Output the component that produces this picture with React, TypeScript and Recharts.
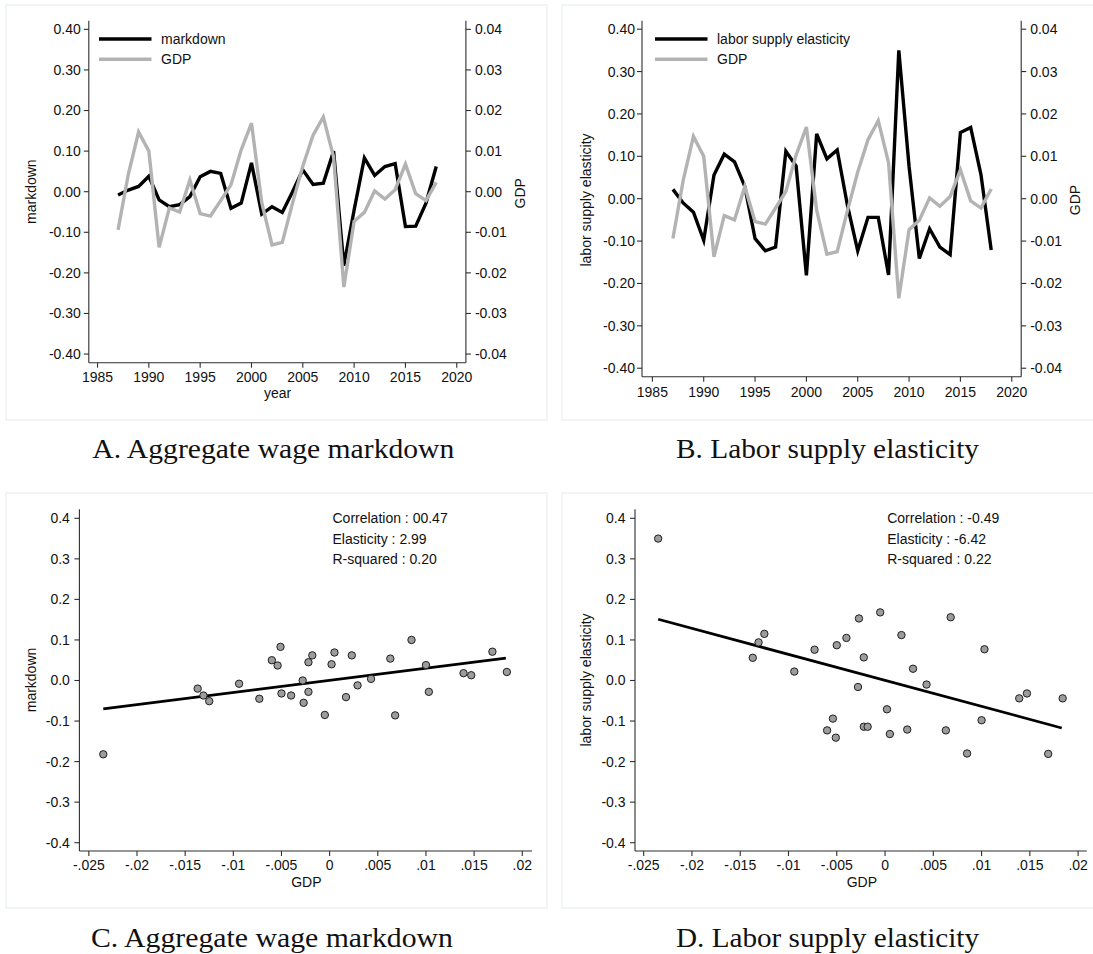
import React from 'react';
import { LineChart, Line, XAxis, YAxis, ScatterChart, Scatter, Legend } from 'recharts';

// ---------- data ----------
const years = [1987, 1988, 1989, 1990, 1991, 1992, 1993, 1994, 1995, 1996, 1997, 1998, 1999, 2000, 2001, 2002,
  2003, 2004, 2005, 2006, 2007, 2008, 2009, 2010, 2011, 2012, 2013, 2014, 2015, 2016, 2017, 2018];
const gdp = [-0.0094, 0.0043, 0.0147, 0.0100, -0.0137, -0.0040, -0.0050, 0.0029, -0.0054, -0.0060, -0.0022, 0.0017,
  0.0103, 0.0169, -0.0027, -0.0131, -0.0125, -0.0028, 0.0063, 0.0139, 0.0184, 0.0085, -0.0235, -0.0073,
  -0.0051, 0.0002, -0.0018, 0.0005, 0.0068, -0.0005, -0.0022, 0.0023];
const markdown = [-0.008, 0.004, 0.013, 0.038, -0.020, -0.037, -0.032, -0.012, 0.037, 0.050, 0.045, -0.041,
  -0.028, 0.071, -0.055, -0.037, -0.051, 0.000, 0.054, 0.018, 0.021, 0.100, -0.182, -0.045,
  0.083, 0.040, 0.062, 0.069, -0.086, -0.085, -0.028, 0.062];
const elasticity = [0.022, -0.010, -0.032, -0.098, 0.056, 0.105, 0.087, 0.029, -0.094, -0.123, -0.114, 0.112,
  0.077, -0.181, 0.153, 0.094, 0.115, -0.016, -0.123, -0.044, -0.044, -0.180, 0.350, 0.076,
  -0.141, -0.071, -0.114, -0.132, 0.156, 0.168, 0.057, -0.121];

const yearTicks = [1985, 1990, 1995, 2000, 2005, 2010, 2015, 2020];
const leftTicks = [-0.4, -0.3, -0.2, -0.1, 0, 0.1, 0.2, 0.3, 0.4];
const rightTicks = [-0.04, -0.03, -0.02, -0.01, 0, 0.01, 0.02, 0.03, 0.04];
const gdpTicks = [-0.025, -0.02, -0.015, -0.01, -0.005, 0, 0.005, 0.01, 0.015, 0.02];
const gdpTickLabels = ['-.025', '-.02', '-.015', '-.01', '-.005', '0', '.005', '.01', '.015', '.02'];

const fitMarkdown = [{ gdp: -0.0235, value: -0.070 }, { gdp: 0.0183, value: 0.055 }];
const fitElasticity = [{ gdp: -0.0235, value: 0.151 }, { gdp: 0.0183, value: -0.117 }];

const statsMarkdown = ['Correlation : 00.47', 'Elasticity : 2.99', 'R-squared : 0.20'];
const statsElasticity = ['Correlation : -0.49', 'Elasticity : -6.42', 'R-squared : 0.22'];

const captions = ['A.  Aggregate wage markdown', 'B.  Labor supply elasticity', 'C.  Aggregate wage markdown', 'D.  Labor supply elasticity'];

// ---------- styles ----------
const FONT = '"Liberation Sans", Arial, sans-serif';
const SERIF = '"Liberation Serif", "Times New Roman", serif';
const AXIS = '#2e2e2e';
const GRAY = '#b3b3b3';
const TXT = '#111';
const FRAME = '#e3ebed';
const tickStyle = { fill: TXT, fontSize: 14, fontFamily: FONT };

const fmt2 = (v: number) => (Math.abs(v) < 1e-9 ? '0.00' : v.toFixed(2));
const fmt1 = (v: number) => (Math.abs(v) < 1e-9 ? '0.0' : v.toFixed(1));
const fmtGdp = (v: number) => {
  const i = gdpTicks.findIndex((t) => Math.abs(t - v) < 1e-9);
  return i >= 0 ? gdpTickLabels[i] : String(v);
};

function LegendBox(props: any) {
  const payload = [...(props.payload || [])].sort((a: any, b: any) =>
    (a.value === 'GDP' ? 1 : 0) - (b.value === 'GDP' ? 1 : 0));
  return (
    <svg width={260} height={42} style={{ display: 'block', overflow: 'visible' }}>
      {payload.map((p: any, i: number) => (
        <g key={i}>
          <line x1={0} x2={52.5} y1={10 + i * 20.3} y2={10 + i * 20.3} stroke={p.color} strokeWidth={3.4} />
          <text x={62} y={10 + i * 20.3} dominantBaseline="central" fontSize={14} fontFamily={FONT} fill={TXT}>
            {p.value}
          </text>
        </g>
      ))}
    </svg>
  );
}

type TimeProps = {
  left: number; top: number; width: number; height: number;
  margin: { top: number; right: number; bottom: number; left: number };
  xDomain: [number, number]; yDomain: [number, number]; rDomain: [number, number];
  values: number[]; name: string; legendLeft: number; lTickMargin: number; xTickMargin: number;
};

function TimeChart(p: TimeProps) {
  const data = years.map((y, i) => ({ year: y, main: p.values[i], gdp: gdp[i] }));
  return (
    <div style={{ position: 'absolute', left: p.left, top: p.top, width: p.width, height: p.height }}>
      <LineChart width={p.width} height={p.height} data={data} margin={p.margin}>
        <XAxis type="number" dataKey="year" domain={p.xDomain} ticks={yearTicks} interval={0} allowDataOverflow
          tickSize={5} tickMargin={p.xTickMargin} height={30} stroke={AXIS} strokeWidth={1.1} tick={tickStyle} />
        <YAxis yAxisId="l" type="number" domain={p.yDomain} ticks={leftTicks} interval={0} allowDataOverflow
          tickFormatter={fmt2} width={60} tickSize={5} tickMargin={p.lTickMargin} stroke={AXIS} strokeWidth={1.1} tick={tickStyle} />
        <YAxis yAxisId="r" orientation="right" type="number" domain={p.rDomain} ticks={rightTicks} interval={0} allowDataOverflow
          tickFormatter={fmt2} width={60} tickSize={5} tickMargin={4} stroke={AXIS} strokeWidth={1.1} tick={tickStyle} />
        <Line yAxisId="l" type="linear" dataKey="main" name={p.name} stroke="#000" strokeWidth={3.4} dot={false}
          isAnimationActive={false} />
        <Line yAxisId="r" type="linear" dataKey="gdp" name="GDP" stroke={GRAY} strokeWidth={3.4} dot={false}
          isAnimationActive={false} />
        <Legend layout="vertical" align="center" verticalAlign="middle" content={LegendBox}
          wrapperStyle={{ position: 'absolute', left: p.legendLeft, top: 29, width: 260, height: 42 }} />
      </LineChart>
    </div>
  );
}

const Dot = (props: any) => (
  <circle cx={props.cx} cy={props.cy} r={3.7} fill="#9c9c9c" stroke="#1e1e1e" strokeWidth={1} />
);
const NoShape = () => <g />;

type ScatProps = {
  left: number; top: number; width: number; height: number;
  margin: { top: number; right: number; bottom: number; left: number };
  xDomain: [number, number]; yDomain: [number, number];
  values: number[]; fit: { gdp: number; value: number }[];
};

function ScatterPanel(p: ScatProps) {
  const pts = gdp.map((g, i) => ({ gdp: g, value: p.values[i] }));
  return (
    <div style={{ position: 'absolute', left: p.left, top: p.top, width: p.width, height: p.height }}>
      <ScatterChart width={p.width} height={p.height} margin={p.margin}>
        <XAxis type="number" dataKey="gdp" domain={p.xDomain} ticks={gdpTicks} interval={0} allowDataOverflow
          tickFormatter={fmtGdp} tickSize={5} tickMargin={4} height={30} stroke={AXIS} strokeWidth={1.1} tick={tickStyle} />
        <YAxis type="number" dataKey="value" domain={p.yDomain} ticks={leftTicks} interval={0} allowDataOverflow
          tickFormatter={fmt1} width={60} tickSize={5} tickMargin={4.5} stroke={AXIS} strokeWidth={1.1} tick={tickStyle} />
        <Scatter data={p.fit} line={{ stroke: '#000', strokeWidth: 2.7 }} shape={NoShape} isAnimationActive={false} />
        <Scatter data={pts} shape={Dot} isAnimationActive={false} />
      </ScatterChart>
    </div>
  );
}

export default function App() {
  const t = { fontFamily: FONT, fontSize: 14, fill: TXT };
  return (
    <div style={{ position: 'absolute', left: 0, top: 0, width: 1093, height: 954, background: '#fff', overflow: 'hidden' }}>
      <svg width={1093} height={954} style={{ position: 'absolute', left: 0, top: 0 }}>
        <rect x={6} y={5} width={541} height={415} fill="none" stroke={FRAME} strokeWidth={1} />
        <rect x={562} y={5} width={540} height={415} fill="none" stroke={FRAME} strokeWidth={1} />
        <rect x={6} y={493} width={541} height={415} fill="none" stroke={FRAME} strokeWidth={1} />
        <rect x={562} y={493} width={540} height={415} fill="none" stroke={FRAME} strokeWidth={1} />
      </svg>

      <TimeChart left={0} top={0} width={546} height={420}
        margin={{ top: 20.7, right: 20.1, bottom: 27.3, left: 28.8 }}
        xDomain={[1984.15, 2020.89]} yDomain={[-0.4213, 0.4213]} rDomain={[-0.04213, 0.04213]}
        values={markdown} name="markdown" legendLeft={99.3} lTickMargin={3} xTickMargin={4.5} />
      <TimeChart left={546} top={0} width={547} height={420}
        margin={{ top: 20.7, right: 11.8, bottom: 13.3, left: 36 }}
        xDomain={[1983.99, 2020.92]} yDomain={[-0.42, 0.42]} rDomain={[-0.042, 0.042]}
        values={elasticity} name="labor supply elasticity" legendLeft={109} lTickMargin={2} xTickMargin={5} />
      <ScatterPanel left={0} top={470} width={546} height={438}
        margin={{ top: 39.3, right: 14, bottom: 27, left: 19.4 }}
        xDomain={[-0.02598, 0.02101]} yDomain={[-0.4205, 0.4222]} values={markdown} fit={fitMarkdown} />
      <ScatterPanel left={546} top={470} width={547} height={438}
        margin={{ top: 39.3, right: 6.2, bottom: 27, left: 29 }}
        xDomain={[-0.0259, 0.0209]} yDomain={[-0.4205, 0.4222]} values={elasticity} fit={fitElasticity} />

      <svg width={1093} height={954} style={{ position: 'absolute', left: 0, top: 0, pointerEvents: 'none' }}>
        {/* axis titles */}
        <text {...t} x={31.3} y={191.7} textAnchor="middle" dominantBaseline="central" transform="rotate(-90 31.3 191.7)">markdown</text>
        <text {...t} x={520.5} y={193.3} textAnchor="middle" dominantBaseline="central" transform="rotate(-90 520.5 193.3)">GDP</text>
        <text {...t} x={277.5} y={393.3} textAnchor="middle" dominantBaseline="central">year</text>
        <text {...t} x={586.1} y={200} textAnchor="middle" dominantBaseline="central" transform="rotate(-90 586.1 200)">labor supply elasticity</text>
        <text {...t} x={1074.6} y={200} textAnchor="middle" dominantBaseline="central" transform="rotate(-90 1074.6 200)">GDP</text>
        <text {...t} x={31.3} y={680} textAnchor="middle" dominantBaseline="central" transform="rotate(-90 31.3 680)">markdown</text>
        <text {...t} x={306.4} y={881.7} textAnchor="middle" dominantBaseline="central">GDP</text>
        <text {...t} x={586.1} y={680} textAnchor="middle" dominantBaseline="central" transform="rotate(-90 586.1 680)">labor supply elasticity</text>
        <text {...t} x={861.8} y={881.7} textAnchor="middle" dominantBaseline="central">GDP</text>
        {/* stats */}
        {statsMarkdown.map((s, i) => (
          <text key={'a' + i} {...t} x={332.5} y={518.3 + i * 20.4} dominantBaseline="central">{s}</text>
        ))}
        {statsElasticity.map((s, i) => (
          <text key={'b' + i} {...t} x={887.2} y={518.3 + i * 20.4} dominantBaseline="central">{s}</text>
        ))}
        {/* captions */}
        <text x={92.3} y={458} fontFamily={SERIF} fontSize={28} fill={TXT} textLength={362} lengthAdjust="spacingAndGlyphs">{captions[0]}</text>
        <text x={676} y={458} fontFamily={SERIF} fontSize={28} fill={TXT} textLength={303} lengthAdjust="spacingAndGlyphs">{captions[1]}</text>
        <text x={91} y={947} fontFamily={SERIF} fontSize={28} fill={TXT} textLength={362} lengthAdjust="spacingAndGlyphs">{captions[2]}</text>
        <text x={676} y={947} fontFamily={SERIF} fontSize={28} fill={TXT} textLength={303} lengthAdjust="spacingAndGlyphs">{captions[3]}</text>
      </svg>
    </div>
  );
}
